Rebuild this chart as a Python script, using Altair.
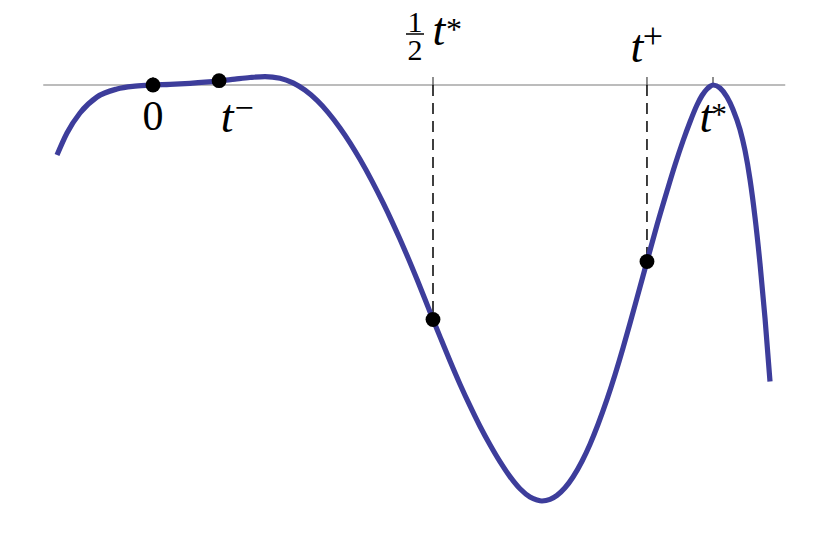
import altair as alt
import pandas as pd

# curve samples: t in units of t*, f arbitrary (axis at f = 0)
curve_t = [-0.1714, -0.1536, -0.1304, -0.1, -0.0643, -0.0321, 0.0, 0.0304, 0.0661, 0.0929,
           0.1196, 0.1464, 0.1732, 0.2, 0.2268, 0.25, 0.2714, 0.2929, 0.3125, 0.3339,
           0.3518, 0.3696, 0.3911, 0.4107, 0.4268, 0.4411, 0.4554, 0.4714, 0.4857, 0.5,
           0.5161, 0.5304, 0.5482, 0.5661, 0.5839, 0.6018, 0.6196, 0.6375, 0.6554, 0.6732,
           0.6857, 0.6946, 0.7089, 0.7214, 0.7357, 0.75, 0.7661, 0.7804, 0.7946, 0.8107,
           0.825, 0.8393, 0.8518, 0.8643, 0.8821, 0.9, 0.9179, 0.9321, 0.9464, 0.9589,
           0.9714, 0.9804, 0.9893, 0.9946, 1.0, 1.0125, 1.025, 1.0357, 1.0482, 1.0571,
           1.0661, 1.075, 1.0839, 1.0929, 1.1018]
curve_f = [-0.70, -0.48, -0.28, -0.12, -0.04, -0.012, 0.0, 0.006, 0.017, 0.028,
           0.042, 0.059, 0.075, 0.084, 0.068, 0.021, -0.052, -0.154, -0.273, -0.429,
           -0.578, -0.743, -0.961, -1.177, -1.366, -1.543, -1.727, -1.943, -2.142, -2.345,
           -2.566, -2.76, -2.992, -3.209, -3.412, -3.598, -3.767, -3.916, -4.038, -4.12,
           -4.15, -4.16, -4.144, -4.104, -4.028, -3.92, -3.762, -3.592, -3.395, -3.144,
           -2.897, -2.63, -2.383, -2.129, -1.765, -1.40, -1.06, -0.80, -0.56, -0.37,
           -0.20, -0.105, -0.04, -0.015, 0.0, -0.03, -0.12, -0.244, -0.445, -0.653,
           -0.945, -1.323, -1.785, -2.333, -2.965]

point_t = [0.0, 0.118, 0.5, 0.8821]
point_f = [0.0, 0.043, -2.345, -1.765]

tick_t = [0.0, 0.118, 0.5, 0.8821, 1.0]
dash_t = [0.5, 0.8821]
dash_f = [-2.345, -1.765]
axis_t = [-0.196, 1.129]

x_domain = [-0.258929, 1.169643]
y_domain = [-4.43, 0.67]

SERIF = "Liberation Serif"
CURVE_COLOR = "#3d3d9b"

X = alt.X("t:Q", scale=alt.Scale(domain=x_domain, nice=False, zero=False), axis=None)
Y = alt.Y("f:Q", scale=alt.Scale(domain=y_domain, nice=False, zero=False), axis=None)

axis_df = pd.DataFrame({"t": axis_t, "f": [0.0] * len(axis_t)})
tick_df = pd.DataFrame({"t": tick_t, "f": [0.0] * len(tick_t)})
dash_df = pd.DataFrame({"t": dash_t, "f": [0.0] * len(dash_t), "fp": dash_f})
curve_df = pd.DataFrame({"t": curve_t, "f": curve_f})
point_df = pd.DataFrame({"t": point_t, "f": point_f})

axis_line = alt.Chart(axis_df).mark_line(color="#7a7a7a", strokeWidth=1.2).encode(x=X, y=Y)

ticks = alt.Chart(tick_df).mark_rule(color="#333333", strokeWidth=1.1, y2Offset=-8).encode(
    x=X, y=Y, y2=alt.Y2("f:Q"))

dashes = alt.Chart(dash_df).mark_rule(color="black", strokeWidth=1.5, strokeDash=[11, 7]).encode(
    x=X, y=Y, y2=alt.Y2("fp:Q"))

curve = alt.Chart(curve_df).mark_line(
    interpolate="monotone", color=CURVE_COLOR, strokeWidth=5.2,
    strokeCap="butt").encode(x=X, y=Y)

points = alt.Chart(point_df).mark_circle(size=220, color="black", opacity=1).encode(x=X, y=Y)


def label(text, t, size, italic, dx, dy):
    df = pd.DataFrame({"t": [t], "f": [0.0], "label": [text]})
    return alt.Chart(df).mark_text(
        font=SERIF, fontSize=size, fontStyle="italic" if italic else "normal",
        align="center", baseline="alphabetic", dx=dx, dy=dy, color="black"
    ).encode(x=X, y=Y, text="label:N")


labels = [
    label("0", 0.0, 42, False, 0, 45),
    label("t", 0.118, 46, True, 8, 47),
    label("\u2212", 0.118, 34, False, 25, 34),
    label("1", 0.5, 30, False, -18, -53),
    label("2", 0.5, 30, False, -18, -25),
    label("t", 0.5, 46, True, 6, -40),
    label("*", 0.5, 32, False, 21, -45),
    label("t", 0.8821, 46, True, -10, -23),
    label("+", 0.8821, 36, False, 6, -37),
    label("t", 1.0, 46, True, -7, 47),
    label("*", 1.0, 32, False, 6, 40),
]

frac_df = pd.DataFrame({"t": [0.5], "f": [0.0]})
frac_bar = alt.Chart(frac_df).mark_rule(
    color="black", strokeWidth=1.5, xOffset=-27, x2Offset=-9, yOffset=-51
).encode(x=X, x2=alt.X2("t:Q"), y=Y)

chart = alt.layer(
    axis_line, ticks, dashes, curve, points, frac_bar, *labels
).properties(
    width=800, height=510, autosize="none",
    padding={"top": 10, "left": 0, "right": 0, "bottom": 0}
).configure_view(stroke=None)

chart.save("out.html", embed_options={"renderer": "svg", "actions": False})
